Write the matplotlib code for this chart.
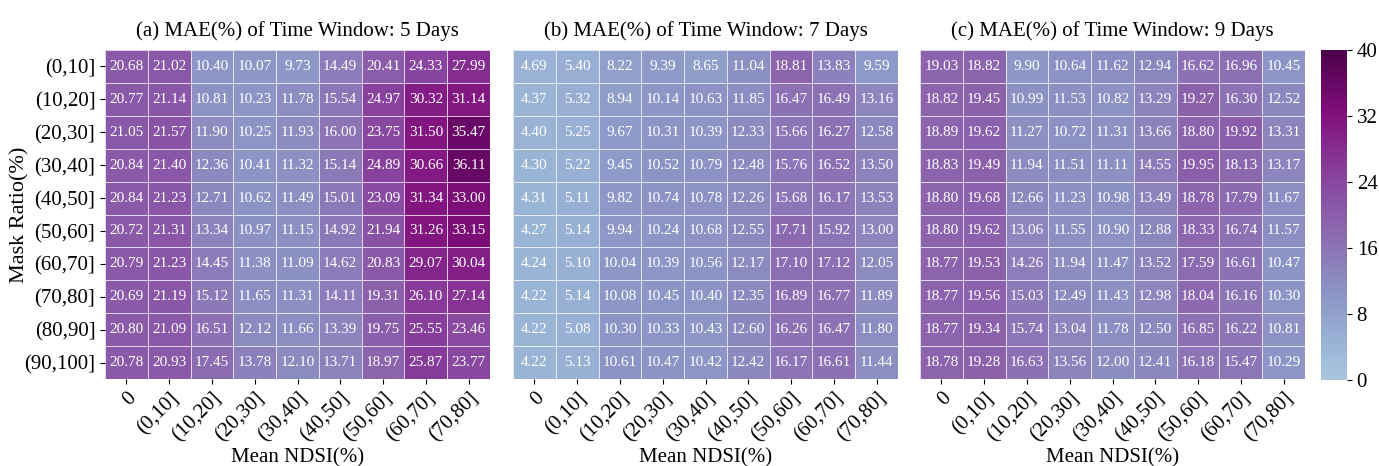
import numpy as np
import matplotlib
matplotlib.use('Agg')
from matplotlib import pyplot as plt
from matplotlib.colors import LinearSegmentedColormap

plt.rcParams['font.family'] = ['Liberation Serif', 'DejaVu Serif']

mask_ratio = ['(0,10]', '(10,20]', '(20,30]', '(30,40]', '(40,50]',
              '(50,60]', '(60,70]', '(70,80]', '(80,90]', '(90,100]']
mean_ndsi = ['0', '(0,10]', '(10,20]', '(20,30]', '(30,40]',
             '(40,50]', '(50,60]', '(60,70]', '(70,80]']
windows = [5, 7, 9]

mae_5 = [
    [20.68, 21.02, 10.40, 10.07, 9.73, 14.49, 20.41, 24.33, 27.99],
    [20.77, 21.14, 10.81, 10.23, 11.78, 15.54, 24.97, 30.32, 31.14],
    [21.05, 21.57, 11.90, 10.25, 11.93, 16.00, 23.75, 31.50, 35.47],
    [20.84, 21.40, 12.36, 10.41, 11.32, 15.14, 24.89, 30.66, 36.11],
    [20.84, 21.23, 12.71, 10.62, 11.49, 15.01, 23.09, 31.34, 33.00],
    [20.72, 21.31, 13.34, 10.97, 11.15, 14.92, 21.94, 31.26, 33.15],
    [20.79, 21.23, 14.45, 11.38, 11.09, 14.62, 20.83, 29.07, 30.04],
    [20.69, 21.19, 15.12, 11.65, 11.31, 14.11, 19.31, 26.10, 27.14],
    [20.80, 21.09, 16.51, 12.12, 11.66, 13.39, 19.75, 25.55, 23.46],
    [20.78, 20.93, 17.45, 13.78, 12.10, 13.71, 18.97, 25.87, 23.77],
]
mae_7 = [
    [4.69, 5.40, 8.22, 9.39, 8.65, 11.04, 18.81, 13.83, 9.59],
    [4.37, 5.32, 8.94, 10.14, 10.63, 11.85, 16.47, 16.49, 13.16],
    [4.40, 5.25, 9.67, 10.31, 10.39, 12.33, 15.66, 16.27, 12.58],
    [4.30, 5.22, 9.45, 10.52, 10.79, 12.48, 15.76, 16.52, 13.50],
    [4.31, 5.11, 9.82, 10.74, 10.78, 12.26, 15.68, 16.17, 13.53],
    [4.27, 5.14, 9.94, 10.24, 10.68, 12.55, 17.71, 15.92, 13.00],
    [4.24, 5.10, 10.04, 10.39, 10.56, 12.17, 17.10, 17.12, 12.05],
    [4.22, 5.14, 10.08, 10.45, 10.40, 12.35, 16.89, 16.77, 11.89],
    [4.22, 5.08, 10.30, 10.33, 10.43, 12.60, 16.26, 16.47, 11.80],
    [4.22, 5.13, 10.61, 10.47, 10.42, 12.42, 16.17, 16.61, 11.44],
]
mae_9 = [
    [19.03, 18.82, 9.90, 10.64, 11.62, 12.94, 16.62, 16.96, 10.45],
    [18.82, 19.45, 10.99, 11.53, 10.82, 13.29, 19.27, 16.30, 12.52],
    [18.89, 19.62, 11.27, 10.72, 11.31, 13.66, 18.80, 19.92, 13.31],
    [18.83, 19.49, 11.94, 11.51, 11.11, 14.55, 19.95, 18.13, 13.17],
    [18.80, 19.68, 12.66, 11.23, 10.98, 13.49, 18.78, 17.79, 11.67],
    [18.80, 19.62, 13.06, 11.55, 10.90, 12.88, 18.33, 16.74, 11.57],
    [18.77, 19.53, 14.26, 11.94, 11.47, 13.52, 17.59, 16.61, 10.47],
    [18.77, 19.56, 15.03, 12.49, 11.43, 12.98, 18.04, 16.16, 10.30],
    [18.77, 19.34, 15.74, 13.04, 11.78, 12.50, 16.85, 16.22, 10.81],
    [18.78, 19.28, 16.63, 13.56, 12.00, 12.41, 16.18, 15.47, 10.29],
]

# BuPu without its pale end
bupu = plt.get_cmap('BuPu')
cmap = LinearSegmentedColormap.from_list('bupu_cut', bupu(np.linspace(0.33, 1.0, 256)))
vmin, vmax = 0, 40

fig = plt.figure(figsize=(13.79, 4.66), dpi=100)
W, H = 1379, 466
lefts = [105, 513, 920]
aw = 385
top, bottom = 50, 379

letters = ['a', 'b', 'c']
for k, data in enumerate([mae_5, mae_7, mae_9]):
    ax = fig.add_axes([lefts[k] / W, 1 - bottom / H, aw / W, (bottom - top) / H])
    arr = np.array(data)
    mesh = ax.pcolormesh(arr, cmap=cmap, vmin=vmin, vmax=vmax,
                         edgecolor=(1, 1, 1, 0.75), linewidth=0.6)
    ax.set_xlim(0, arr.shape[1])
    ax.set_ylim(arr.shape[0], 0)
    for i in range(arr.shape[0]):
        for j in range(arr.shape[1]):
            ax.text(j + 0.5, i + 0.5, f'{arr[i, j]:.2f}', ha='center', va='center',
                    color='white', fontsize=11)
    for s in ax.spines.values():
        s.set_visible(False)
    ax.set_xticks(np.arange(arr.shape[1]) + 0.5)
    ax.set_xticklabels(mean_ndsi, rotation=45, ha='right', rotation_mode='anchor',
                       fontsize=15)
    ax.set_yticks(np.arange(arr.shape[0]) + 0.5)
    if k == 0:
        ax.set_yticklabels(mask_ratio, fontsize=15)
        ax.set_ylabel('Mask Ratio(%)', fontsize=16)
        ax.yaxis.set_label_coords(-0.195, 0.5)
    else:
        ax.set_yticklabels([])
        ax.tick_params(axis='y', length=0)
    ax.set_xlabel('Mean NDSI(%)', fontsize=15, labelpad=2)
    ax.set_title(f'({letters[k]}) MAE(%) of Time Window: {windows[k]} Days',
                 fontsize=15, pad=10)

cax = fig.add_axes([1321 / W, 1 - 380 / H, 26 / W, 330 / H])
cb = fig.colorbar(mesh, cax=cax, ticks=[0, 8, 16, 24, 32, 40])
cb.outline.set_visible(False)
cb.ax.tick_params(labelsize=15)

fig.savefig('out.png', dpi=100)
